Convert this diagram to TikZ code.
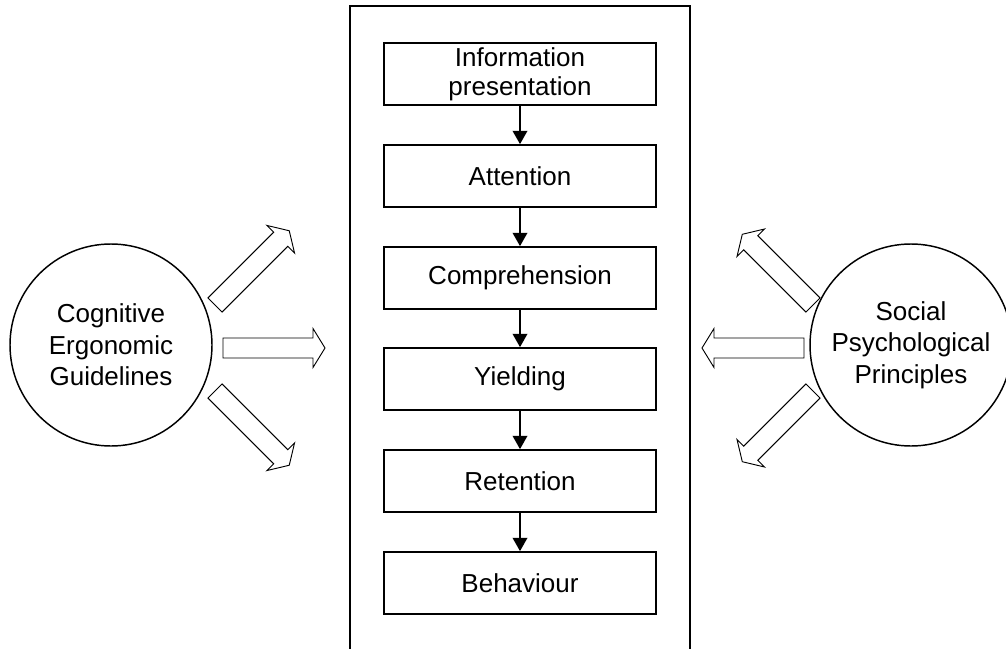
\documentclass[tikz,border=0pt]{standalone}
\usepackage{fontspec}
\setmainfont{Liberation Sans}
\usetikzlibrary{arrows.meta}
\begin{document}
\begin{tikzpicture}[x=0.75pt,y=-0.75pt,
  stagebox/.style={draw, line width=1.3pt, minimum width=204pt, minimum height=46.5pt,
    inner sep=0pt, align=center, font=\fontsize{19.5}{22}\selectfont},
  bigcircle/.style={draw, circle, line width=1.1pt, minimum size=151.5pt, inner sep=0pt,
    align=center, font=\fontsize{19.5}{23.5}\selectfont},
  flow/.style={line width=1.2pt, -{Triangle[length=10pt,width=11pt]}},
  blockarrow/.style={draw, fill=white, line width=0.7pt, line join=miter}]
\useasboundingbox (0,0) rectangle (1006,649);

% outer frame of the process chain
\draw[line width=1.3pt] (350,6) rectangle (690,680);

% process stages
\node[stagebox] (info) at (520,74)  {Information\\presentation};
\node[stagebox] (att)  at (520,176) {Attention};
\node[stagebox] (comp) at (520,278) {Comprehension};
\node[stagebox] (yld)  at (520,379) {Yielding};
\node[stagebox] (ret)  at (520,481) {Retention};
\node[stagebox] (beh)  at (520,583) {Behaviour};

\draw[flow] (info) -- (att);
\draw[flow] (att) -- (comp);
\draw[flow] (comp) -- (yld);
\draw[flow] (yld) -- (ret);
\draw[flow] (ret) -- (beh);

% influencing sources
\node[bigcircle] (cog) at (111,345) {Cognitive\\Ergonomic\\Guidelines};
\node[bigcircle] (soc) at (911,345) {Social\\Psychological\\Principles};

% hollow block arrow: length #3, shaft half-width 10, head half-width 19.5, head length 12
\newcommand{\blockarr}[3]{%
  \begin{scope}[shift={#1}, rotate=#2]
    \draw[blockarrow] (0,-10) -- (#3-12,-10) -- (#3-12,-19.5) -- (#3,0)
      -- (#3-12,19.5) -- (#3-12,10) -- (0,10) -- cycle;
  \end{scope}}

\coordinate (cogA) at (215,305);
\coordinate (cogB) at (223,348);
\coordinate (cogC) at (215,391);
\coordinate (socA) at (813,305);
\coordinate (socB) at (804,348);
\coordinate (socC) at (813,391);

\blockarr{(cogA)}{45}{105}
\blockarr{(cogB)}{0}{102}
\blockarr{(cogC)}{-45}{105}
\blockarr{(socA)}{135}{100}
\blockarr{(socB)}{180}{102}
\blockarr{(socC)}{-135}{100}
\end{tikzpicture}
\end{document}
